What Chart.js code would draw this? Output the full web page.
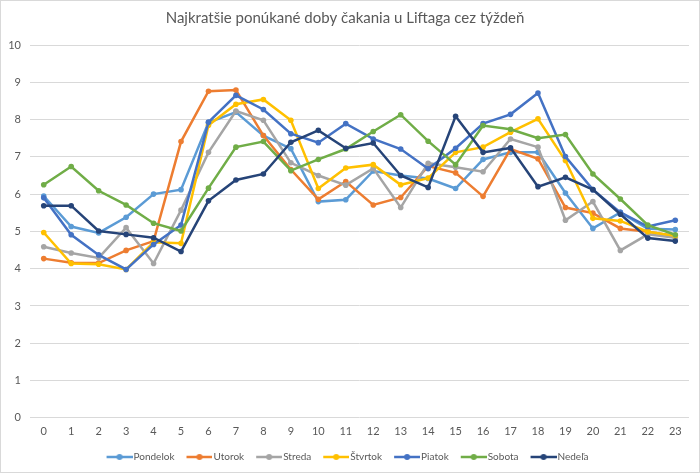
<!DOCTYPE html>
<html>
<head>
<meta charset="utf-8">
<script src="https://cdn.jsdelivr.net/npm/chart.js@4"></script>
<style>
    html, body { margin: 0; padding: 0; background: #fff; }
    #wrap { width: 698px; height: 471px; border: 1px solid #d9d9d9; position: relative; }
</style>
</head>
<body>
<div id="wrap"><canvas id="chart"></canvas></div>
<script>
const hours = ['0', '1', '2', '3', '4', '5', '6', '7', '8', '9', '10', '11', '12', '13', '14', '15', '16', '17', '18', '19', '20', '21', '22', '23'];
const dayNames = ['Pondelok', 'Utorok', 'Streda', 'Štvrtok', 'Piatok', 'Sobota', 'Nedeľa'];
const pondelok = [5.95, 5.13, 4.96, 5.38, 6.0, 6.12, 7.92, 8.2, 7.57, 7.22, 5.8, 5.85, 6.62, 6.5, 6.42, 6.15, 6.93, 7.12, 7.12, 6.03, 5.08, 5.51, 5.07, 5.05];
const utorok = [4.27, 4.16, 4.15, 4.49, 4.74, 7.41, 8.76, 8.79, 7.57, 6.66, 5.86, 6.34, 5.71, 5.91, 6.75, 6.57, 5.94, 7.21, 6.95, 5.64, 5.49, 5.08, 4.99, 4.88];
const streda = [4.59, 4.42, 4.29, 5.1, 4.14, 5.57, 7.12, 8.23, 7.98, 6.84, 6.5, 6.24, 6.69, 5.64, 6.83, 6.72, 6.6, 7.48, 7.26, 5.3, 5.8, 4.49, 4.92, 4.83];
const stvrtok = [4.97, 4.14, 4.12, 3.98, 4.71, 4.68, 7.85, 8.41, 8.54, 7.98, 6.15, 6.7, 6.79, 6.25, 6.43, 7.12, 7.26, 7.66, 8.02, 6.9, 5.35, 5.28, 4.99, 4.88];
const piatok = [5.9, 4.91, 4.37, 3.98, 4.65, 5.17, 7.93, 8.65, 8.27, 7.62, 7.38, 7.89, 7.48, 7.21, 6.68, 7.23, 7.89, 8.14, 8.71, 7.01, 6.12, 5.51, 5.13, 5.3];
const sobota = [6.25, 6.74, 6.09, 5.71, 5.22, 5.01, 6.16, 7.26, 7.41, 6.63, 6.93, 7.21, 7.68, 8.13, 7.42, 6.79, 7.84, 7.74, 7.5, 7.6, 6.54, 5.87, 5.17, 4.91];
const nedela = [5.69, 5.69, 5.01, 4.92, 4.83, 4.46, 5.82, 6.38, 6.54, 7.39, 7.71, 7.23, 7.37, 6.5, 6.18, 8.09, 7.12, 7.24, 6.2, 6.45, 6.12, 5.46, 4.82, 4.74];
const seriesValues = [pondelok, utorok, streda, stvrtok, piatok, sobota, nedela];
const colors = ['#5B9BD5', '#ED7D31', '#A5A5A5', '#FFC000', '#4472C4', '#70AD47', '#264478'];

const fontFamily = 'Lato, "Open Sans", sans-serif';
const textColor = '#595959';

// legend marker: a short line with a dot in the middle (left part of the canvas is empty)
function legendMarker(color) {
    const c = document.createElement('canvas');
    c.width = 35;
    c.height = 8;
    const ctx = c.getContext('2d');
    ctx.strokeStyle = color;
    ctx.lineWidth = 2.5;
    ctx.beginPath();
    ctx.moveTo(9, 4);
    ctx.lineTo(35, 4);
    ctx.stroke();
    ctx.fillStyle = color;
    ctx.beginPath();
    ctx.arc(22, 4, 3, 0, Math.PI * 2);
    ctx.fill();
    return c;
}

const datasets = dayNames.map((name, i) => ({
    label: name,
    data: seriesValues[i],
    borderColor: colors[i],
    backgroundColor: colors[i],
    borderWidth: 2.5,
    pointRadius: 2.8,
    pointHoverRadius: 3,
    pointBorderWidth: 0,
    tension: 0,
    order: dayNames.length - i
}));

new Chart(document.getElementById('chart'), {
    type: 'line',
    data: { labels: hours, datasets: datasets },
    options: {
        responsive: true,
        maintainAspectRatio: false,
        animation: false,
        layout: { padding: { left: 0, right: 10, top: 0, bottom: 0 } },
        plugins: {
            title: {
                display: true,
                text: 'Najkratšie ponúkané doby čakania u Liftaga cez týždeň',
                color: textColor,
                font: { family: fontFamily, size: 15, weight: 'normal' },
                padding: { top: 8, bottom: 18 }
            },
            legend: {
                position: 'bottom',
                labels: {
                    color: textColor,
                    font: { family: fontFamily, size: 10 },
                    usePointStyle: true,
                    pointStyleWidth: 27,
                    padding: 7,
                    generateLabels: chart => chart.data.datasets.map((ds, i) => ({
                        text: ds.label,
                        pointStyle: legendMarker(ds.borderColor),
                        fillStyle: ds.borderColor,
                        strokeStyle: ds.borderColor,
                        lineWidth: 0,
                        fontColor: textColor,
                        hidden: false,
                        datasetIndex: i
                    }))
                }
            },
            tooltip: { enabled: false }
        },
        scales: {
            x: {
                offset: true,
                grid: { display: false, drawTicks: false },
                border: { display: false },
                ticks: { color: textColor, font: { family: fontFamily, size: 11 }, maxRotation: 0, autoSkip: false, padding: 7 }
            },
            y: {
                min: 0,
                max: 10,
                grid: { color: '#d9d9d9', lineWidth: 1, drawTicks: false },
                border: { display: false },
                ticks: { stepSize: 1, color: textColor, font: { family: fontFamily, size: 11 }, padding: 9 },
                afterFit: s => { s.width = 29; }
            }
        }
    }
});
</script>
</body>
</html>
